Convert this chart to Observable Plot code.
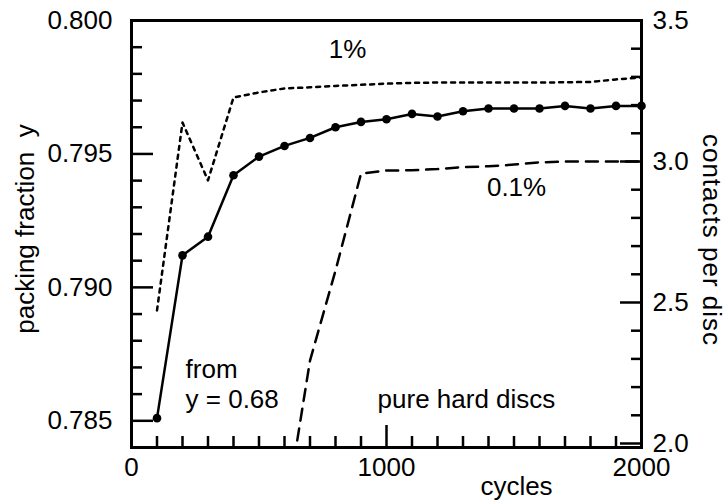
<!DOCTYPE html>
<html>
<head>
<meta charset="utf-8">
<script src="https://cdn.jsdelivr.net/npm/d3@7"></script>
<script src="https://cdn.jsdelivr.net/npm/@observablehq/plot@0.6"></script>
<style>
  html, body { margin: 0; padding: 0; background: #fff; }
  #chart { width: 726px; height: 501px; }
  #chart svg text { white-space: pre; }
</style>
</head>
<body>
<div id="chart"></div>
<script>
// ---- data ----
const cycles = [100, 200, 300, 400, 500, 600, 700, 800, 900, 1000,
                1100, 1200, 1300, 1400, 1500, 1600, 1700, 1800, 1900, 2000];
// packing fraction y (left axis), solid line with dots
const packingFraction = [0.7851, 0.7912, 0.7919, 0.7942, 0.7949, 0.7953, 0.7956, 0.7960, 0.7962, 0.7963,
                         0.7965, 0.7964, 0.7966, 0.7967, 0.7967, 0.7967, 0.7968, 0.7967, 0.7968, 0.7968];
// contacts per disc (right axis), "1%" dotted line
const contacts1pct = [2.472, 3.138, 2.933, 3.227, 3.245, 3.259, 3.263, 3.268, 3.272, 3.276,
                      3.279, 3.280, 3.280, 3.280, 3.280, 3.280, 3.281, 3.282, 3.291, 3.298];
// contacts per disc (right axis), "0.1%" dashed line
const cycles01pct = [650, 700, 800, 900, 1000, 1100, 1200, 1300, 1400, 1500, 1600, 1700, 1800, 1900, 2000];
const contacts01pct = [2.011, 2.294, 2.613, 2.957, 2.968, 2.969, 2.973, 2.980, 2.983, 2.989, 2.997, 3.000, 3.000, 3.000, 3.000];

// ---- axis ticks and labels ----
const xTickValues = [0, 1000, 2000];
const xTickLabels = ["0", "1000", "2000"];
const leftTickValues = [0.785, 0.790, 0.795, 0.800];
const leftTickLabels = ["0.785", "0.790", "0.795", "0.800"];
const rightTickValues = [2.0, 2.5, 3.0, 3.5];
const rightTickLabels = ["2.0", "2.5", "3.0", "3.5"];
const xTitle = "cycles";
const leftTitle = "packing fraction  y";
const rightTitle = "contacts per disc";

// ---- scales ----
const leftDomain = [0.784, 0.800];
const rightDomain = [1.9858, 3.5];
const toLeft = c => leftDomain[0] + (c - rightDomain[0]) / (rightDomain[1] - rightDomain[0]) * (leftDomain[1] - leftDomain[0]);

const W = 726, H = 501, mL = 131, mR = 85, mT = 20, mB = 54;
const fw = W - mL - mR, fh = H - mT - mB;

const xMinor = d3.range(100, 2000, 100).filter(v => v % 1000 !== 0);
const leftMinor = d3.range(0, 16).map(i => +(0.784 + i * 0.001).toFixed(3)).filter(v => !leftTickValues.some(t => Math.abs(t - v) < 1e-9));
const rightMinor = d3.range(0, 16).map(i => +(2.0 + i * 0.1).toFixed(1)).filter(v => !rightTickValues.some(t => Math.abs(t - v) < 1e-9));

const packData = cycles.map((c, i) => ({x: c, y: packingFraction[i]}));
const one = cycles.map((c, i) => ({x: c, y: toLeft(contacts1pct[i])}));
const tenth = cycles01pct.map((c, i) => ({x: c, y: toLeft(contacts01pct[i])}));

const centeredNotes = [
  {text: "1%", x: 847, y: 0.79891},
  {text: "0.1%", x: 1510, y: 0.79374}
];
const leftNotes = [
  {text: "from", x: 212, y: 0.78692},
  {text: "y = 0.68", x: 212, y: 0.78580},
  {text: "pure hard discs", x: 965, y: 0.78580}
];

const FS = 26;
const ink = "#000";
const chart = Plot.plot({
  width: W, height: H,
  marginLeft: mL, marginRight: mR, marginTop: mT, marginBottom: mB,
  style: {fontFamily: "'Liberation Sans', Arial, Helvetica, sans-serif", fontSize: FS + "px", background: "#fff", color: ink},
  x: {domain: [0, 2000], axis: null},
  y: {domain: leftDomain, axis: null},
  marks: [
    // data
    Plot.line(one, {x: "x", y: "y", stroke: ink, strokeWidth: 2.5, strokeDasharray: "4,5"}),
    Plot.line(tenth, {x: "x", y: "y", stroke: ink, strokeWidth: 2.5, strokeDasharray: "12,8"}),
    Plot.line(packData, {x: "x", y: "y", stroke: ink, strokeWidth: 2.5}),
    Plot.dot(packData, {x: "x", y: "y", r: 4.3, fill: ink}),
    // frame and inward ticks
    Plot.frame({stroke: ink, strokeWidth: 3}),
    Plot.tickY(leftTickValues, {y: d => d, insetRight: fw - 22, stroke: ink, strokeWidth: 2.5}),
    Plot.tickY(leftMinor, {y: d => d, insetRight: fw - 11, stroke: ink, strokeWidth: 2.5}),
    Plot.tickY(rightTickValues.map(toLeft), {y: d => d, insetLeft: fw - 21, stroke: ink, strokeWidth: 2.5}),
    Plot.tickY(rightMinor.map(toLeft), {y: d => d, insetLeft: fw - 10, stroke: ink, strokeWidth: 2.5}),
    Plot.tickX(xTickValues, {x: d => d, insetTop: fh - 22, stroke: ink, strokeWidth: 2.5}),
    Plot.tickX(xMinor, {x: d => d, insetTop: fh - 11, stroke: ink, strokeWidth: 2.5}),
    // tick labels
    Plot.text(leftTickValues, {x: () => 0, y: d => d, text: (d, i) => leftTickLabels[i], textAnchor: "end", lineAnchor: "middle", dx: -19, fontSize: FS, fill: ink}),
    Plot.text(rightTickValues, {x: () => 2000, y: d => toLeft(d), text: (d, i) => rightTickLabels[i], textAnchor: "start", lineAnchor: "middle", dx: 11, fontSize: FS, fill: ink}),
    Plot.text(xTickValues, {x: d => d, y: () => leftDomain[0], text: (d, i) => xTickLabels[i], textAnchor: "middle", lineAnchor: "middle", dy: 20, fontSize: FS, fill: ink}),
    // axis titles
    Plot.text([leftTitle], {frameAnchor: "left", textAnchor: "middle", lineAnchor: "middle", dx: -106, dy: -5, rotate: -90, fontSize: FS, fill: ink}),
    Plot.text([rightTitle], {frameAnchor: "right", textAnchor: "middle", lineAnchor: "middle", dx: 70, dy: 6, rotate: 90, fontSize: FS, fill: ink}),
    Plot.text([xTitle], {frameAnchor: "bottom", textAnchor: "middle", lineAnchor: "middle", dx: 130, dy: 39, fontSize: FS, fill: ink}),
    // annotations
    Plot.text(centeredNotes, {x: "x", y: "y", text: "text", textAnchor: "middle", lineAnchor: "middle", fontSize: FS, fill: ink}),
    Plot.text(leftNotes, {x: "x", y: "y", text: "text", textAnchor: "start", lineAnchor: "middle", fontSize: FS, fill: ink})
  ]
});
document.getElementById("chart").appendChild(chart);
d3.select(chart).selectAll("text").attr("xml:space", "preserve");
d3.select(chart).selectAll("text").filter(function() { return this.textContent === rightTitle; }).attr("letter-spacing", "1px");
</script>
</body>
</html>
